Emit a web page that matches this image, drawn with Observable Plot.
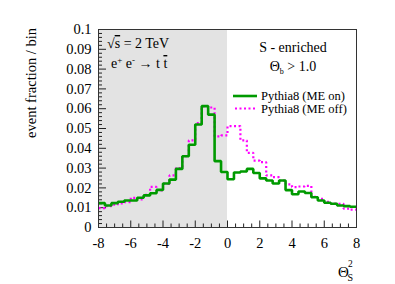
<!DOCTYPE html>
<html><head><meta charset="utf-8">
<script src="https://cdn.jsdelivr.net/npm/d3@7"></script>
<script src="https://cdn.jsdelivr.net/npm/@observablehq/plot@0.6"></script>
<style>body{margin:0;background:#fff}</style>
</head><body><div id="chart"></div>
<script>
// bin lower edges (width 0.4) from -8 to 8
const binLow = [-8,-7.6,-7.2,-6.8,-6.4,-6,-5.6,-5.2,-4.8,-4.4,-4,-3.6,-3.2,-2.8,-2.4,-2,-1.6,-1.2,-0.8,-0.4,
                0,0.4,0.8,1.2,1.6,2,2.4,2.8,3.2,3.6,4,4.4,4.8,5.2,5.6,6,6.4,6.8,7.2,7.6];
const histEnd = 8;
// Pythia8 (ME on)
const meOn = [0.0123,0.0111,0.0123,0.0130,0.0136,0.0136,0.0150,0.0162,0.0173,0.0190,0.0222,0.0242,0.0296,0.0360,0.0418,0.0520,0.0613,0.0570,0.0335,0.0280,
              0.0244,0.0278,0.0283,0.0296,0.0275,0.0248,0.0237,0.0222,0.0237,0.0189,0.0168,0.0182,0.0174,0.0153,0.0136,0.0125,0.0120,0.0111,0.0108,0.0105];
// Pythia8 (ME off)
const meOff = [0.0098,0.0108,0.0115,0.0122,0.0128,0.0150,0.0142,0.0165,0.0205,0.0187,0.0220,0.0263,0.0300,0.0360,0.0440,0.0527,0.0612,0.0606,0.0460,0.0465,
               0.0512,0.0512,0.0440,0.0377,0.0338,0.0330,0.0263,0.0254,0.0237,0.0218,0.0204,0.0207,0.0210,0.0155,0.0145,0.0130,0.0121,0.0120,0.0095,0.0090];
const shaded = [{x1: -8, x2: 0}];
const xMajor = [-8,-6,-4,-2,0,2,4,6,8];
const xMinor = [-7.5,-7,-6.5,-5.5,-5,-4.5,-3.5,-3,-2.5,-1.5,-1,-0.5,0.5,1,1.5,2.5,3,3.5,4.5,5,5.5,6.5,7,7.5];
const yMajor = [0,0.01,0.02,0.03,0.04,0.05,0.06,0.07,0.08,0.09,0.1];
const yMinor = d3.range(0, 50).map(i => i*0.002).filter(v => Math.abs(v*100 - Math.round(v*100)) > 1e-6);

const steps = vals => binLow.map((x,i)=>({x, y: vals[i]})).concat([{x: histEnd, y: vals[vals.length-1]}]);

const W = 395, H = 284, mL = 98, mR = 39, mT = 29, mB = 57;
const xdom = [-8, 8], ydom = [0, 0.1];
const pxX = (W - mL - mR) / (xdom[1]-xdom[0]);
const pxY = (H - mT - mB) / (ydom[1]-ydom[0]);
const yT = (len) => len / pxX; // tick length in x units (for y-axis ticks)
const xT = (len) => len / pxY; // tick length in y units (for x-axis ticks)

const plot = Plot.plot({
  width: W, height: H,
  marginLeft: mL, marginRight: mR, marginTop: mT, marginBottom: mB,
  x: {domain: xdom},
  y: {domain: ydom},
  style: {fontFamily: "Liberation Serif", fontSize: "14.5px", background: "#fff", color: "#000"},
  marks: [
    Plot.rect(shaded, {x1: "x1", x2: "x2", y1: 0, y2: 0.1, fill: "#e3e3e3"}),
    Plot.ruleX(xMajor, {y1: 0, y2: xT(6.5), stroke: "#222", strokeWidth: 1}),
    Plot.ruleX(xMinor, {y1: 0, y2: xT(3.5), stroke: "#222", strokeWidth: 1}),
    Plot.ruleY(yMajor, {x1: -8, x2: -8 + yT(8), stroke: "#222", strokeWidth: 1}),
    Plot.ruleY(yMinor, {x1: -8, x2: -8 + yT(4), stroke: "#222", strokeWidth: 1}),
    Plot.line(steps(meOff), {x: "x", y: "y", curve: "step-after", stroke: "#ff00ff", strokeWidth: 2.2, strokeDasharray: "2,2.5", strokeLinecap: "butt", strokeLinejoin: "miter"}),
    Plot.line(steps(meOn), {x: "x", y: "y", curve: "step-after", stroke: "#009a00", strokeWidth: 2.6, strokeLinejoin: "miter", strokeLinecap: "butt"}),
    Plot.frame({stroke: "#333", strokeWidth: 1}),
    Plot.axisX({ticks: xMajor, tickSize: 0, tickPadding: 10, tickFormat: d => String(d), label: null, fontSize: 14.5}),
    Plot.axisY({ticks: yMajor, tickSize: 0, tickPadding: 7, tickFormat: d => String(+d.toFixed(2)), label: null, fontSize: 14.5})
  ]
});
document.getElementById("chart").appendChild(plot);

const svg = d3.select(plot);
const g = svg.append("g").attr("font-family", "Liberation Serif").attr("fill", "#000").attr("text-anchor", "start");

// y title
g.append("text").attr("transform", "translate(36,28) rotate(-90)")
  .attr("text-anchor", "end").attr("font-size", 14.5).text("event fraction / bin");

// x title Θ_S^2
const xt = g.append("text").attr("x", 338).attr("y", 277).attr("font-size", 15);
xt.append("tspan").text("Θ");
xt.append("tspan").attr("font-size", 9.5).attr("x", 348).attr("y", 267).text("2");
xt.append("tspan").attr("font-size", 10).attr("x", 347.5).attr("y", 281).text("S");

// sqrt s
const t1 = g.append("text").attr("x", 107).attr("y", 48).attr("font-size", 14);
t1.append("tspan").text("√");
t1.append("tspan").attr("text-decoration", "overline").text("s");
t1.append("tspan").text(" = 2 TeV");

// e+ e- -> t tbar
const t2 = g.append("text").attr("x", 111).attr("y", 68).attr("font-size", 14);
t2.append("tspan").text("e");
t2.append("tspan").attr("font-size", 9).attr("dy", -5).text("+");
t2.append("tspan").attr("dy", 5).text(" e");
t2.append("tspan").attr("font-size", 9).attr("dy", -5).text("-");
t2.append("tspan").attr("dy", 5).text(" → t ");
t2.append("tspan").attr("text-decoration", "overline").text("t");

// S - enriched
g.append("text").attr("x", 293).attr("y", 52).attr("text-anchor", "middle").attr("font-size", 14).text("S - enriched");
const t3 = g.append("text").attr("x", 293).attr("y", 71).attr("text-anchor", "middle").attr("font-size", 14);
t3.append("tspan").text("Θ");
t3.append("tspan").attr("font-size", 8).attr("dy", 3).text("b");
t3.append("tspan").attr("dy", -3).text(" > 1.0");

// legend
g.append("line").attr("x1", 233).attr("x2", 257).attr("y1", 96).attr("y2", 96)
  .attr("stroke", "#009a00").attr("stroke-width", 2.6);
g.append("text").attr("x", 261).attr("y", 100).attr("font-size", 12.5).text("Pythia8 (ME on)");
g.append("line").attr("x1", 235).attr("x2", 257).attr("y1", 108.5).attr("y2", 108.5)
  .attr("stroke", "#ff00ff").attr("stroke-width", 2.2).attr("stroke-dasharray", "2,2.5");
g.append("text").attr("x", 261).attr("y", 113).attr("font-size", 12.5).text("Pythia8 (ME off)");
</script>
</body></html>
